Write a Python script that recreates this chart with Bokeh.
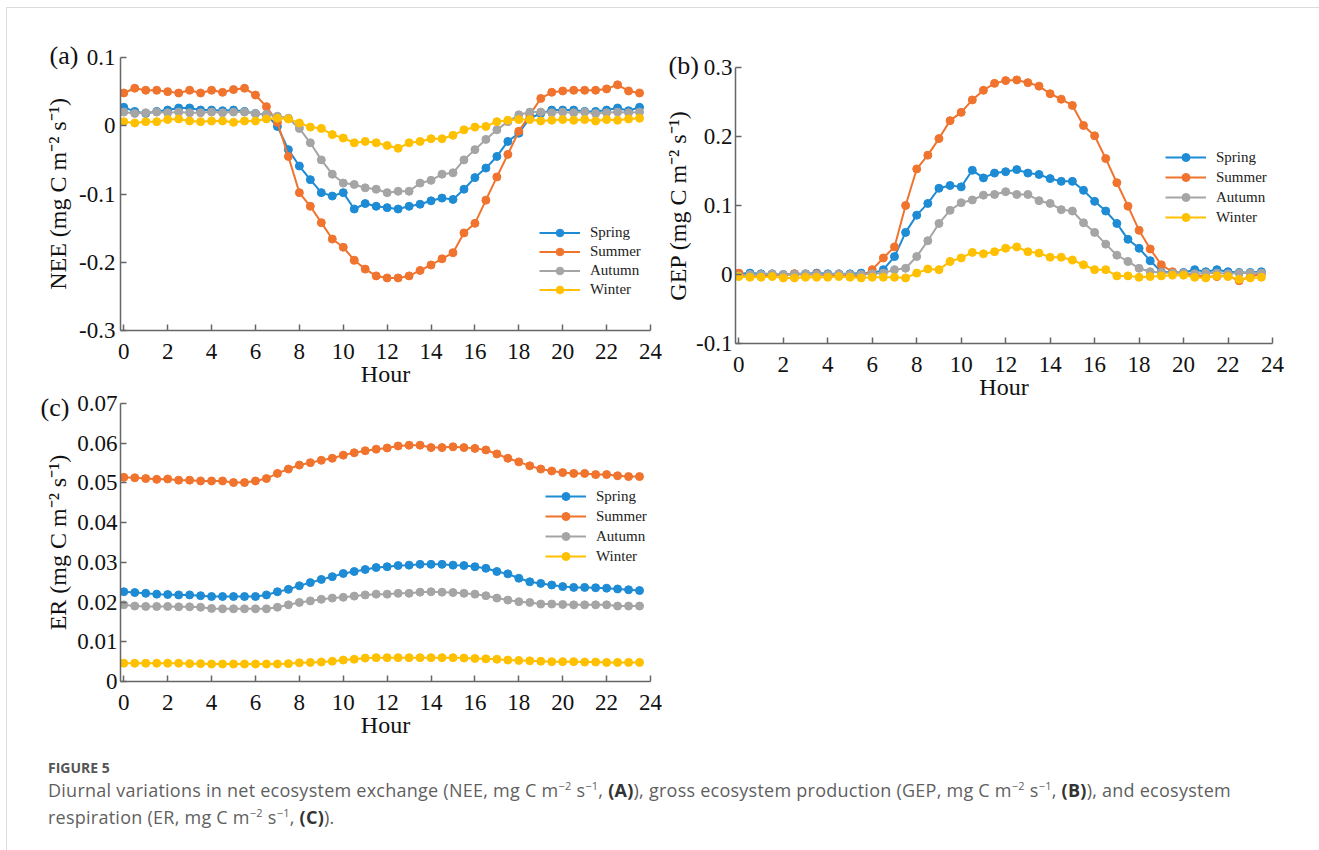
from bokeh.plotting import figure
from bokeh.models import Range1d, FixedTicker, Legend, LegendItem, Div
from bokeh.layouts import row, column
from bokeh.embed import file_html
from bokeh.resources import INLINE

# ---------------- data ----------------
hours = [0, 0.5, 1, 1.5, 2, 2.5, 3, 3.5, 4, 4.5, 5, 5.5, 6, 6.5, 7, 7.5, 8, 8.5,
         9, 9.5, 10, 10.5, 11, 11.5, 12, 12.5, 13, 13.5, 14, 14.5, 15, 15.5,
         16, 16.5, 17, 17.5, 18, 18.5, 19, 19.5, 20, 20.5, 21, 21.5, 22, 22.5,
         23, 23.5]
seasons = ["Spring", "Summer", "Autumn", "Winter"]
hour_ticks = [0, 2, 4, 6, 8, 10, 12, 14, 16, 18, 20, 22, 24]
nee_ticks = [-0.3, -0.2, -0.1, 0, 0.1]
nee_tick_labels = ["-0.3", "-0.2", "-0.1", "0", "0.1"]
gep_ticks = [-0.1, 0, 0.1, 0.2, 0.3]
gep_tick_labels = ["-0.1", "0", "0.1", "0.2", "0.3"]
er_ticks = [0, 0.01, 0.02, 0.03, 0.04, 0.05, 0.06, 0.07]
er_tick_labels = ["0", "0.01", "0.02", "0.03", "0.04", "0.05", "0.06", "0.07"]

spring_nee = [0.027, 0.021, 0.018, 0.021, 0.023, 0.026, 0.026, 0.023, 0.023, 0.022,
              0.023, 0.021, 0.018, 0.016, -0.001, -0.035, -0.059, -0.079, -0.098,
              -0.103, -0.098, -0.122, -0.114, -0.118, -0.120, -0.122, -0.118, -0.115,
              -0.110, -0.106, -0.108, -0.093, -0.076, -0.062, -0.045, -0.023, -0.011,
              0.011, 0.018, 0.023, 0.023, 0.023, 0.021, 0.021, 0.023, 0.026, 0.022, 0.027]
summer_nee = [0.048, 0.055, 0.052, 0.052, 0.050, 0.048, 0.052, 0.048, 0.052, 0.049,
              0.053, 0.055, 0.045, 0.028, 0.005, -0.045, -0.098, -0.118, -0.142,
              -0.166, -0.178, -0.197, -0.210, -0.220, -0.223, -0.223, -0.220, -0.212,
              -0.204, -0.195, -0.186, -0.157, -0.143, -0.109, -0.075, -0.042, -0.008,
              0.016, 0.040, 0.049, 0.051, 0.052, 0.052, 0.052, 0.054, 0.060, 0.051, 0.048]
autumn_nee = [0.020, 0.018, 0.019, 0.020, 0.019, 0.020, 0.019, 0.019, 0.020, 0.019,
              0.020, 0.020, 0.018, 0.017, 0.014, 0.011, -0.004, -0.025, -0.050,
              -0.071, -0.084, -0.086, -0.091, -0.093, -0.098, -0.096, -0.096, -0.084,
              -0.080, -0.071, -0.069, -0.050, -0.035, -0.020, -0.006, 0.006, 0.016,
              0.020, 0.020, 0.019, 0.020, 0.019, 0.020, 0.018, 0.019, 0.020, 0.019, 0.020]
winter_nee = [0.006, 0.004, 0.006, 0.006, 0.009, 0.010, 0.007, 0.006, 0.007, 0.007,
              0.005, 0.007, 0.007, 0.010, 0.011, 0.010, 0.004, -0.002, -0.004,
              -0.013, -0.018, -0.025, -0.023, -0.025, -0.029, -0.033, -0.025, -0.023,
              -0.019, -0.019, -0.014, -0.006, -0.002, -0.001, 0.006, 0.008, 0.009,
              0.009, 0.007, 0.008, 0.009, 0.008, 0.009, 0.007, 0.009, 0.008, 0.010, 0.011]

spring_gep = [0.001, 0.002, 0.001, 0.001, 0.000, 0.001, 0.001, 0.002, 0.001, 0.001,
              0.001, 0.002, 0.001, 0.007, 0.026, 0.061, 0.086, 0.103, 0.125, 0.129,
              0.127, 0.151, 0.140, 0.147, 0.149, 0.152, 0.147, 0.145, 0.139, 0.135,
              0.135, 0.122, 0.106, 0.092, 0.074, 0.051, 0.038, 0.020, 0.004, 0.003,
              0.003, 0.007, 0.004, 0.007, 0.004, 0.003, 0.003, 0.004]
summer_gep = [0.002, -0.003, -0.002, 0.000, -0.001, 0.001, -0.001, 0.001, -0.002, 0.000,
              -0.001, -0.003, 0.007, 0.024, 0.040, 0.100, 0.153, 0.173, 0.197, 0.223,
              0.235, 0.253, 0.267, 0.277, 0.281, 0.282, 0.278, 0.273, 0.262, 0.254,
              0.245, 0.216, 0.201, 0.168, 0.133, 0.099, 0.064, 0.037, 0.014, 0.004,
              0.001, -0.001, -0.003, -0.003, -0.002, -0.009, -0.003, 0.001]
autumn_gep = [-0.002, 0.000, 0.000, 0.001, 0.000, 0.000, 0.001, 0.000, 0.000, 0.001,
              0.000, 0.000, 0.001, 0.002, 0.007, 0.009, 0.026, 0.049, 0.074, 0.093,
              0.104, 0.108, 0.115, 0.116, 0.120, 0.116, 0.116, 0.107, 0.103, 0.094,
              0.092, 0.075, 0.061, 0.044, 0.028, 0.019, 0.009, 0.004, 0.003, 0.002,
              0.002, 0.001, 0.002, 0.002, 0.001, 0.002, 0.002, 0.002]
winter_gep = [-0.003, -0.004, -0.004, -0.003, -0.005, -0.005, -0.004, -0.004, -0.004, -0.003,
              -0.004, -0.005, -0.004, -0.004, -0.004, -0.005, 0.002, 0.008, 0.007, 0.019,
              0.024, 0.032, 0.030, 0.033, 0.038, 0.040, 0.033, 0.031, 0.025, 0.025,
              0.021, 0.014, 0.007, 0.007, -0.002, -0.002, -0.004, -0.003, -0.002, -0.001,
              -0.001, -0.004, -0.005, -0.002, -0.003, -0.007, -0.005, -0.004]

spring_er = [0.0226, 0.0224, 0.0222, 0.0220, 0.0219, 0.0218, 0.0218, 0.0216, 0.0214, 0.0214,
             0.0214, 0.0214, 0.0214, 0.0218, 0.0226, 0.0232, 0.0241, 0.0249, 0.0257, 0.0264,
             0.0272, 0.0277, 0.0282, 0.0287, 0.0289, 0.0292, 0.0293, 0.0295, 0.0295, 0.0295,
             0.0293, 0.0292, 0.0289, 0.0285, 0.0277, 0.0271, 0.0260, 0.0251, 0.0247, 0.0243,
             0.0239, 0.0237, 0.0237, 0.0236, 0.0235, 0.0233, 0.0231, 0.0229]
summer_er = [0.0514, 0.0513, 0.0511, 0.0509, 0.0510, 0.0507, 0.0507, 0.0505, 0.0505, 0.0505,
             0.0501, 0.0501, 0.0505, 0.0511, 0.0524, 0.0535, 0.0545, 0.0551, 0.0557, 0.0562,
             0.0570, 0.0576, 0.0581, 0.0585, 0.0588, 0.0593, 0.0595, 0.0595, 0.0589, 0.0589,
             0.0591, 0.0589, 0.0587, 0.0583, 0.0573, 0.0562, 0.0553, 0.0543, 0.0535, 0.0530,
             0.0526, 0.0524, 0.0524, 0.0521, 0.0521, 0.0518, 0.0516, 0.0516]
autumn_er = [0.0193, 0.0190, 0.0189, 0.0189, 0.0189, 0.0188, 0.0188, 0.0187, 0.0184, 0.0183,
             0.0183, 0.0183, 0.0183, 0.0183, 0.0187, 0.0193, 0.0199, 0.0203, 0.0207, 0.0210,
             0.0212, 0.0215, 0.0218, 0.0220, 0.0220, 0.0222, 0.0222, 0.0225, 0.0226, 0.0225,
             0.0224, 0.0222, 0.0220, 0.0216, 0.0210, 0.0205, 0.0201, 0.0199, 0.0195, 0.0195,
             0.0194, 0.0193, 0.0193, 0.0193, 0.0193, 0.0190, 0.0190, 0.0190]
winter_er = [0.0046, 0.0046, 0.0046, 0.0046, 0.0046, 0.0046, 0.0045, 0.0045, 0.0044, 0.0044,
             0.0044, 0.0044, 0.0044, 0.0044, 0.0044, 0.0045, 0.0047, 0.0048, 0.0049, 0.0051,
             0.0054, 0.0056, 0.0059, 0.0060, 0.0060, 0.0060, 0.0060, 0.0060, 0.0060, 0.0060,
             0.0060, 0.0059, 0.0058, 0.0057, 0.0056, 0.0054, 0.0053, 0.0052, 0.0051, 0.0050,
             0.0050, 0.0050, 0.0049, 0.0049, 0.0048, 0.0048, 0.0048, 0.0048]

# ---------------- style ----------------
COLORS = ["#1E8BD5", "#F0732E", "#A5A5A5", "#FFC000"]
FONT = "Liberation Serif"
AXIS_C = "#666666"
UNIT = " (mg C m\u207b\u00b2 s\u207b\u00b9)"


def panel(width, height, borders, y_rng, yticks, ylabels, ylabel, series, leg_loc,
          leg_h, tag, tag_offset, tag_standoff, ystand):
    bl, br, bt, bb = borders
    p = figure(width=width, height=height, x_range=Range1d(-0.15, 24),
               y_range=Range1d(*y_rng), min_border_left=bl, min_border_right=br,
               min_border_top=bt, min_border_bottom=bb, output_backend="svg",
               toolbar_location=None, background_fill_color="white",
               border_fill_color="white")
    p.outline_line_color = None
    p.xgrid.visible = False
    p.ygrid.visible = False
    p.xaxis.ticker = FixedTicker(ticks=hour_ticks)
    p.yaxis.ticker = FixedTicker(ticks=yticks)
    p.yaxis.major_label_overrides = dict(zip(yticks, ylabels))
    for ax in (p.xaxis[0], p.yaxis[0]):
        ax.axis_line_color = AXIS_C
        ax.axis_line_width = 1.5
        ax.major_tick_line_color = AXIS_C
        ax.major_tick_line_width = 1.5
        ax.major_tick_in = 6
        ax.major_tick_out = 0
        ax.minor_tick_line_color = None
        ax.major_label_text_font = FONT
        ax.major_label_text_font_size = "23px"
        ax.major_label_text_color = "#111111"
        ax.axis_label_text_font = FONT
        ax.axis_label_text_font_size = "24px"
        ax.axis_label_text_font_style = "normal"
        ax.axis_label_text_color = "#111111"
    p.xaxis.major_label_standoff = 13
    p.xaxis.axis_label_standoff = -1
    p.yaxis.major_label_standoff = ystand[0]
    p.yaxis.axis_label_standoff = ystand[1]
    p.xaxis.axis_label = "Hour"
    p.yaxis.axis_label = ylabel

    # panel tag, e.g. "(a)"
    p.title.text = tag
    p.title.text_font = FONT
    p.title.text_font_size = "26px"
    p.title.text_font_style = "normal"
    p.title.text_color = "#111111"
    p.title.align = "left"
    p.title.vertical_align = "bottom"
    p.title.offset = tag_offset
    p.title.standoff = tag_standoff

    items = []
    for name, ys, col in zip(seasons, series, COLORS):
        ln = p.line(hours, ys, line_color=col, line_width=2)
        sc = p.scatter(hours, ys, marker="circle", size=8, fill_color=col,
                       line_color=col)
        items.append(LegendItem(label=name, renderers=[ln, sc]))
    leg = Legend(items=items, location=leg_loc, orientation="vertical",
                 glyph_width=41, glyph_height=leg_h, label_height=leg_h,
                 spacing=0, padding=0, margin=0, label_standoff=10,
                 border_line_color=None, background_fill_alpha=0,
                 label_text_font=FONT, label_text_font_size="15px",
                 label_text_color="#222222")
    p.add_layout(leg)
    return p


fa = panel(655, 383, (112, 10, 49, 61), (-0.3, 0.1), nee_ticks, nee_tick_labels,
           "NEE" + UNIT, [spring_nee, summer_nee, autumn_nee, winter_nee],
           (419, 31), 19, "(a)", -71, -25, (5, 5))
fc = panel(655, 351, (113, 12, 12, 61), (0, 0.07), er_ticks, er_tick_labels,
           "ER" + UNIT, [spring_er, summer_er, autumn_er, winter_er],
           (425, 115), 20, "(c)", -80, -36, (3, 3))
fb = panel(657, 396, (72, 47, 59, 61), (-0.1, 0.3), gep_ticks, gep_tick_labels,
           "GEP" + UNIT, [spring_gep, summer_gep, autumn_gep, winter_gep],
           (430, 116), 20, "(b)", -67, -25, (3, 2))

sup = "<sup style='font-size:11px;line-height:0'>{}</sup>"
unit_html = "mg C m" + sup.format("\u22122") + " s" + sup.format("\u22121")
caption_html = (
    "<div style=\"font-family:'Open Sans'; color:#5f5f5f; padding-left:41px; white-space:nowrap;\">"
    "<div style='font-size:14px; font-weight:700; line-height:18px; margin-top:17px; color:#555555;'>FIGURE 5</div>"
    "<div style='font-size:18px; line-height:27px; letter-spacing:0.25px;'>"
    "Diurnal variations in net ecosystem exchange (NEE, " + unit_html +
    ", <b style='color:#333'>(A)</b>), gross ecosystem production (GEP, " + unit_html +
    ", <b style='color:#333'>(B)</b>), and ecosystem<br>"
    "respiration (ER, " + unit_html + ", <b style='color:#333'>(C)</b>)."
    "</div></div>"
)
caption = Div(text=caption_html, width=1312, height=108, margin=0)

line_bg = {"background-color": "#dcdcdc"}
content = column(row(column(fa, fc), fb), caption)
root = column(
    Div(width=1319, height=7, margin=0),
    row(
        Div(width=6, height=843, margin=0),
        Div(width=1, height=843, margin=0, styles=line_bg),
        column(Div(width=1312, height=1, margin=0, styles=line_bg), content),
    ),
)

open("out.html", "w").write(file_html(root, INLINE))
